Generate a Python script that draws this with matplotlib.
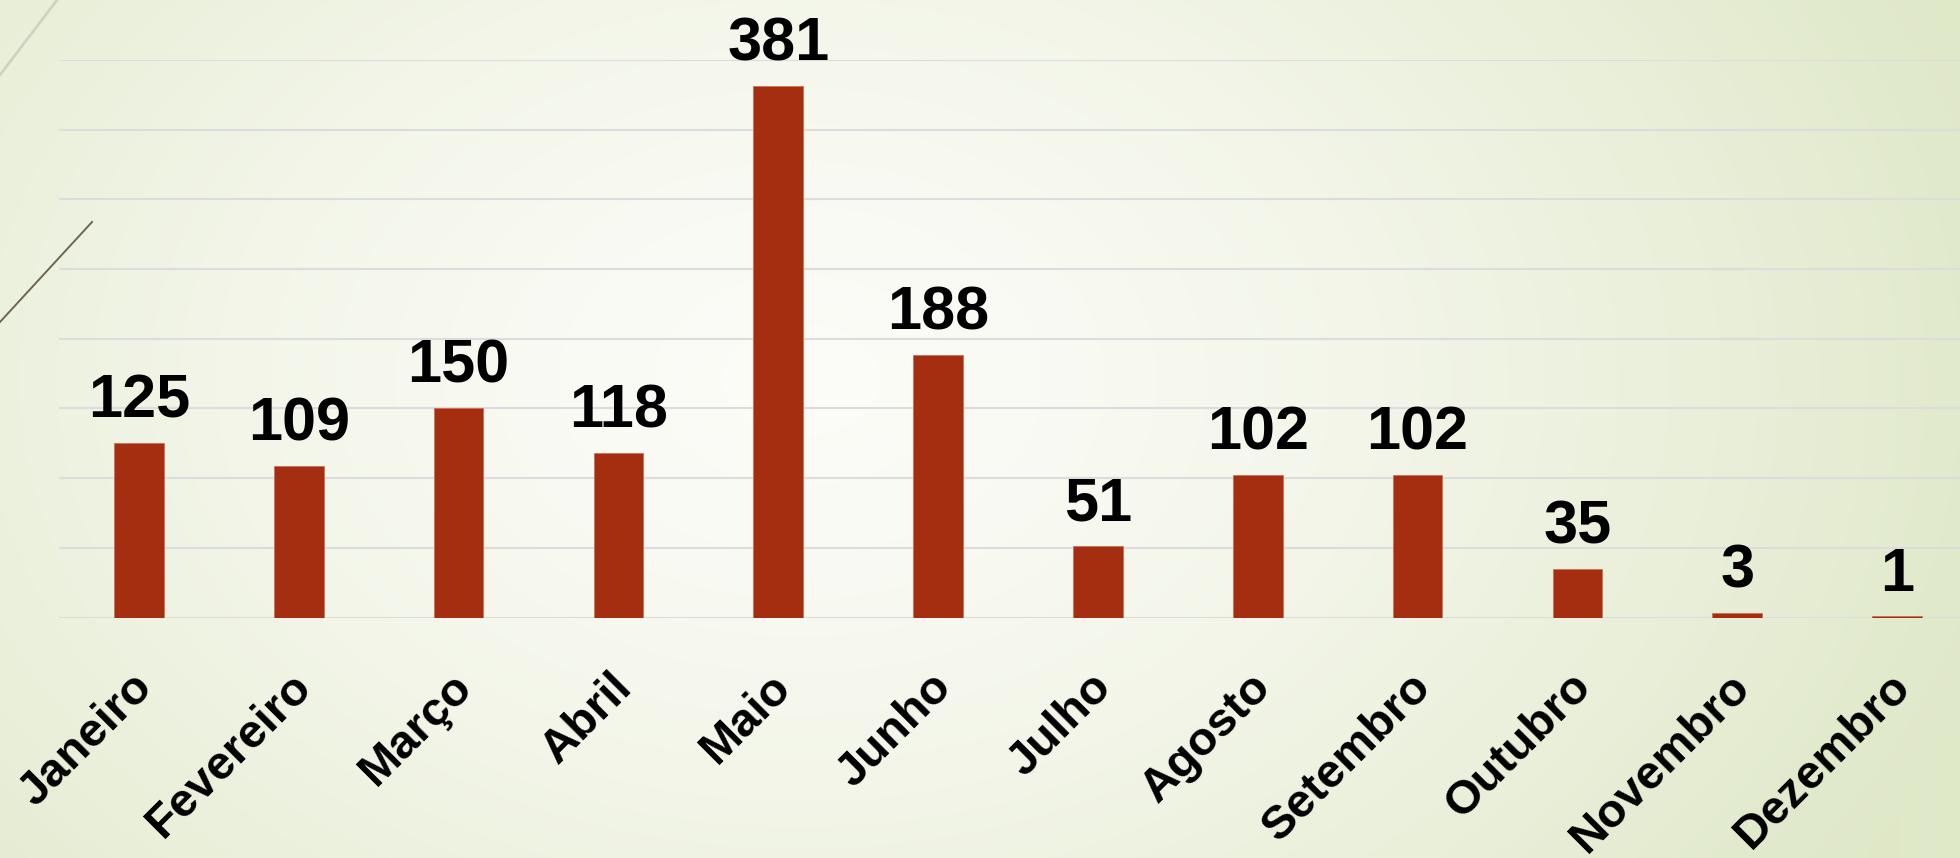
import numpy as np
import matplotlib
matplotlib.use('Agg')
import matplotlib.pyplot as plt
from matplotlib.colors import to_rgb
from matplotlib.transforms import ScaledTranslation

months = ['Janeiro', 'Fevereiro', 'Março', 'Abril', 'Maio', 'Junho',
          'Julho', 'Agosto', 'Setembro', 'Outubro', 'Novembro', 'Dezembro']
counts = [125, 109, 150, 118, 381, 188, 51, 102, 102, 35, 3, 1]
yticks = [0, 50, 100, 150, 200, 250, 300, 350, 400]

W, H = 1960, 858
plt.rcParams['font.family'] = ['Liberation Sans', 'DejaVu Sans']

fig = plt.figure(figsize=(W / 100, H / 100), dpi=100)

# background: soft radial gradient, white in the middle, pale green at the edges
bg = fig.add_axes([0, 0, 1, 1])
yy, xx = np.mgrid[0:H, 0:W]
r = np.sqrt(((xx - 800) / 1250.0) ** 2 + ((yy - 380) / 900.0) ** 2)
r = np.clip(r, 0, 1)[..., None]
inner = np.array(to_rgb('#fcfcf8'))
outer = np.array(to_rgb('#dfe8c8'))
img = inner + (outer - inner) * r ** 1.4
bg.imshow(img, extent=[0, W, H, 0], aspect='auto')
bg.set_xlim(0, W)
bg.set_ylim(H, 0)
bg.axis('off')

# decorative strokes top-left
bg.plot([0, 57], [75, 0], color='#cfd3c2', lw=2)
bg.plot([0, 92], [322, 222], color='#6e6652', lw=1.4)

# chart area
left, right, top, base = 59, 1977, 60, 617.5
ax = fig.add_axes([left / W, (H - base) / H, (right - left) / W, (base - top) / H])
ax.set_facecolor('none')
x = np.arange(len(months))
ax.bar(x, counts, width=0.31, color='#a52d10', edgecolor='#c9705a', linewidth=0.6, zorder=3)
ax.set_xlim(-0.5, len(months) - 0.5)
ax.set_ylim(0, 400)
ax.set_yticks(yticks)
ax.yaxis.grid(True, color='#dcdcdc', lw=1.5, zorder=0)
ax.tick_params(axis='y', left=False, labelleft=False)
for s in ax.spines.values():
    s.set_visible(False)

for i, v in enumerate(counts):
    ax.annotate(str(v), (i, v), xytext=(0, 9), textcoords='offset points',
                ha='center', va='bottom', fontsize=44, fontweight='bold', color='black')

ax.set_xticks(x)
ax.set_xticklabels(months, rotation=45, ha='right', rotation_mode='anchor',
                   fontsize=34, fontweight='bold', color='black')
ax.tick_params(axis='x', length=0, pad=34)
offset = ScaledTranslation(-0.09, 0, fig.dpi_scale_trans)
for lab in ax.get_xticklabels():
    lab.set_transform(lab.get_transform() + offset)

fig.savefig('out.png', dpi=100)
